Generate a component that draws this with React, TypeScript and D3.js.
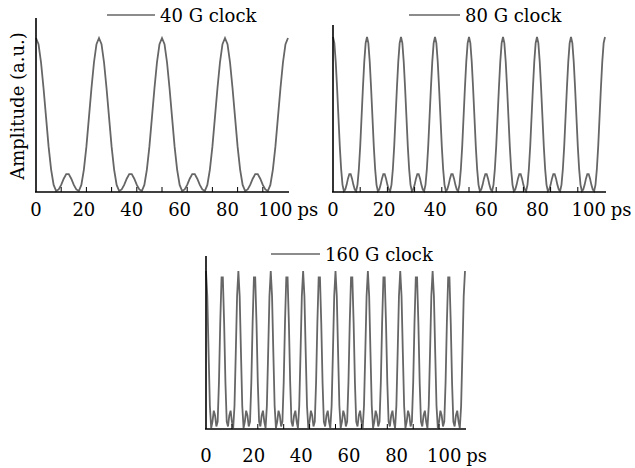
import React from 'react';
import * as d3 from 'd3';

// sampled clock waveforms (normalised amplitude), read off the figure
// 40 G clock, one sample per 1 ps
const clock40 = [
  1, .96, .84, .67, .48, .29, .14, .04, 0, .01, .04, .08, .11, .11, .08, .04, .01, 0, .04, .14, .29, .48, .67, .84, .96,
  1, .96, .84, .67, .48, .29, .14, .04, 0, .01, .04, .08, .11, .11, .08, .04, .01, 0, .04, .14, .29, .48, .67, .84, .96,
  1, .96, .84, .67, .48, .29, .14, .04, 0, .01, .04, .08, .11, .11, .08, .04, .01, 0, .04, .14, .29, .48, .67, .84, .96,
  1, .96, .84, .67, .48, .29, .14, .04, 0, .01, .04, .08, .11, .11, .08, .04, .01, 0, .04, .14, .29, .48, .67, .84, .96,
  1,
];

// 80 G clock, one sample per 0.5 ps
const clock80 = [
  1, .96, .84, .67, .48, .29, .14, .04, 0, .01, .04, .08, .11, .11, .08, .04, .01, 0, .04, .14, .29, .48, .67, .84, .96,
  1, .96, .84, .67, .48, .29, .14, .04, 0, .01, .04, .08, .11, .11, .08, .04, .01, 0, .04, .14, .29, .48, .67, .84, .96,
  1, .96, .84, .67, .48, .29, .14, .04, 0, .01, .04, .08, .11, .11, .08, .04, .01, 0, .04, .14, .29, .48, .67, .84, .96,
  1, .96, .84, .67, .48, .29, .14, .04, 0, .01, .04, .08, .11, .11, .08, .04, .01, 0, .04, .14, .29, .48, .67, .84, .96,
  1, .96, .84, .67, .48, .29, .14, .04, 0, .01, .04, .08, .11, .11, .08, .04, .01, 0, .04, .14, .29, .48, .67, .84, .96,
  1, .96, .84, .67, .48, .29, .14, .04, 0, .01, .04, .08, .11, .11, .08, .04, .01, 0, .04, .14, .29, .48, .67, .84, .96,
  1, .96, .84, .67, .48, .29, .14, .04, 0, .01, .04, .08, .11, .11, .08, .04, .01, 0, .04, .14, .29, .48, .67, .84, .96,
  1, .96, .84, .67, .48, .29, .14, .04, 0, .01, .04, .08, .11, .11, .08, .04, .01, 0, .04, .14, .29, .48, .67, .84, .96,
  1,
];

// 160 G clock, one sample per 0.5 ps
const clock160 = [
  1, .84, .48, .14, 0, .04, .11, .08, .01, .04, .29, .67, .96, .96, .67, .29, .04, .01, .08, .11, .04, 0, .14, .48, .84,
  1, .84, .48, .14, 0, .04, .11, .08, .01, .04, .29, .67, .96, .96, .67, .29, .04, .01, .08, .11, .04, 0, .14, .48, .84,
  1, .84, .48, .14, 0, .04, .11, .08, .01, .04, .29, .67, .96, .96, .67, .29, .04, .01, .08, .11, .04, 0, .14, .48, .84,
  1, .84, .48, .14, 0, .04, .11, .08, .01, .04, .29, .67, .96, .96, .67, .29, .04, .01, .08, .11, .04, 0, .14, .48, .84,
  1, .84, .48, .14, 0, .04, .11, .08, .01, .04, .29, .67, .96, .96, .67, .29, .04, .01, .08, .11, .04, 0, .14, .48, .84,
  1, .84, .48, .14, 0, .04, .11, .08, .01, .04, .29, .67, .96, .96, .67, .29, .04, .01, .08, .11, .04, 0, .14, .48, .84,
  1, .84, .48, .14, 0, .04, .11, .08, .01, .04, .29, .67, .96, .96, .67, .29, .04, .01, .08, .11, .04, 0, .14, .48, .84,
  1, .84, .48, .14, 0, .04, .11, .08, .01, .04, .29, .67, .96, .96, .67, .29, .04, .01, .08, .11, .04, 0, .14, .48, .84,
  1,
];

const tickLabels = [0, 20, 40, 60, 80, 100];
const minorTicks = [10, 20, 30, 40, 50, 60, 70, 80, 90];

const FONT = '"DejaVu Serif", serif';
const WAVE = '#666';

type PanelProps = {
  data: number[];
  step: number;
  legend: string;
  x0: number;
  x1: number;
  axisTop: number;
  peakY: number;
  baseY: number;
  legendLine: [number, number];
  legendY: number;
  labelShrink: number;
  labelY: number;
};

const Panel = (p: PanelProps) => {
  const x = d3.scaleLinear().domain([0, 100]).range([p.x0, p.x1]);
  const y = d3.scaleLinear().domain([0, 1]).range([p.baseY - 1, p.peakY]);
  // hand-placed labels in the original sit a bit left of the true tick spots
  const lx = d3.scaleLinear().domain([0, 100]).range([p.x0, p.x0 + (p.x1 - p.x0) * p.labelShrink]);

  const line = d3.line<number>()
    .x((_, i) => x(i * p.step))
    .y(d => y(d));

  return (
    <g>
      <path d={line(p.data) || ''} fill="none" stroke={WAVE} strokeWidth={1.8} />
      {minorTicks.map(t => (
        <line key={t} x1={x(t)} x2={x(t)} y1={p.baseY} y2={p.baseY - 5} stroke="#000" strokeWidth={1} />
      ))}
      <line x1={p.x0} x2={p.x0} y1={p.axisTop} y2={p.baseY} stroke="#000" strokeWidth={1.6} />
      <line x1={p.x0 - 1} x2={p.x1 + 1} y1={p.baseY} y2={p.baseY} stroke="#000" strokeWidth={1.6} />
      {tickLabels.map(t => (
        <text key={t} x={lx(t)} y={p.labelY} textAnchor="middle" fontFamily={FONT} fontSize={18} fill="#000">
          {t}
        </text>
      ))}
      <text x={lx(100) + 22} y={p.labelY} fontFamily={FONT} fontSize={18} fill="#000">ps</text>
      <line x1={p.legendLine[0]} x2={p.legendLine[1]} y1={p.legendY} y2={p.legendY} stroke={WAVE} strokeWidth={1.6} />
      <text x={p.legendLine[1] + 5} y={p.legendY + 7} fontFamily={FONT} fontSize={18} fill="#000">{p.legend}</text>
    </g>
  );
};

export default function App() {
  return (
    <svg width={635} height={468} style={{ position: 'absolute', left: 0, top: 0, background: '#fff' }}>
      <rect width={635} height={468} fill="#fff" />
      <Panel data={clock40} step={1} legend="40 G clock" x0={36} x1={288} axisTop={18} peakY={38} baseY={192}
        legendLine={[107, 155]} legendY={15} labelShrink={0.95} labelY={216} />
      <Panel data={clock80} step={0.5} legend="80 G clock" x0={333} x1={605} axisTop={25} peakY={37} baseY={192}
        legendLine={[409, 460]} legendY={15} labelShrink={0.94} labelY={216} />
      <Panel data={clock160} step={0.5} legend="160 G clock" x0={206} x1={465} axisTop={256} peakY={271} baseY={429}
        legendLine={[271, 320]} legendY={254} labelShrink={0.92} labelY={462} />
      <text transform="translate(24,106) rotate(-90)" textAnchor="middle" fontFamily={FONT} fontSize={18} fill="#000">
        Amplitude (a.u.)
      </text>
    </svg>
  );
}
